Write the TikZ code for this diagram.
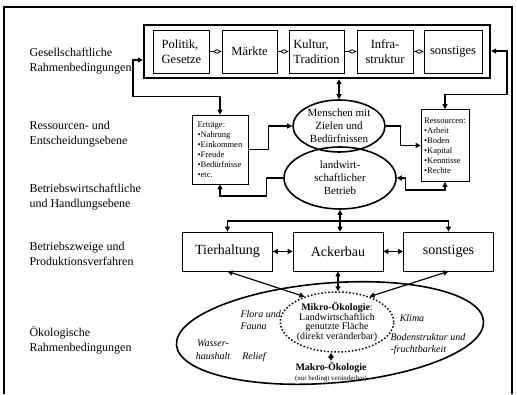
\documentclass[tikz,border=0pt]{standalone}
\usepackage{fontspec}
\setmainfont{Liberation Serif}
\usetikzlibrary{arrows.meta, shapes.geometric, calc}

\begin{document}
\begin{tikzpicture}[
  x=1pt, y=-1pt,
  level/.style={anchor=west, align=left, font=\fontsize{12}{15}\selectfont},
  topbox/.style={rectangle, draw, line width=0.8pt, align=center,
    minimum width=55pt, minimum height=43pt, inner sep=1pt,
    font=\fontsize{12.5}{15}\selectfont},
  branch/.style={rectangle, draw, line width=0.8pt, minimum width=90pt,
    minimum height=39pt, font=\fontsize{14}{16}\selectfont},
  listbox/.style={rectangle, draw, line width=0.8pt, align=left,
    inner sep=1pt, font=\fontsize{8.5}{10}\selectfont},
  actor/.style={ellipse, draw, line width=1.6pt, align=center, inner sep=0pt,
    font=\fontsize{11}{13}\selectfont},
  ecotext/.style={align=left, font=\itshape\fontsize{10}{12.5}\selectfont},
  flow/.style={-{Triangle[length=5pt,width=5pt]}, line width=1.2pt},
  twoway/.style={{Triangle[length=5pt,width=5pt]}-{Triangle[length=5pt,width=5pt]},
    line width=1.2pt},
  link/.style={-{Diamond[open,length=9pt,width=4.5pt]}, line width=0.8pt}
]
  \useasboundingbox (0,0) rectangle (517,394);
  % outer frame, open at the bottom
  \draw[line width=1.8pt] (4,394) -- (4,7) -- (512,7) -- (512,394);

  % level labels
  \node[level] (lgesell) at (26,61) {Gesellschaftliche\\Rahmenbedingungen};
  \node[level] (lressource) at (26,134) {Ressourcen- und\\Entscheidungsebene};
  \node[level] (lbetrieb) at (26,197) {Betriebswirtschaftliche\\und Handlungsebene};
  \node[level] (lzweige) at (26,254) {Betriebszweige und\\Produktionsverfahren};
  \node[level] (loeko) at (26,340) {Ökologische\\Rahmenbedingungen};

  % societal frame conditions
  \node[topbox, align=left, minimum width=56pt] (politik) at (181.5,51.5) {Politik,\\Gesetze};
  \node[topbox] (maerkte) at (249.5,51.5) {Märkte};
  \node[topbox, align=left] (kultur) at (316.5,51.5) {Kultur,\\Tradition};
  \node[topbox, minimum width=56pt] (infra) at (385,51.5) {Infra-\\struktur};
  \node[topbox, minimum width=58pt] (sonstG) at (453,51.5) {sonstiges};
  \node[draw, line width=2.4pt, minimum width=346pt, minimum height=53pt] (rahmen) at (317,51.5) {};
  \draw[link] (politik) -- (maerkte);
  \draw[link] (maerkte) -- (kultur);
  \draw[link] (kultur) -- (infra);
  \draw[link] (infra) -- (sonstG);

  % resources and decisions
  \node[listbox, minimum width=56pt, minimum height=69pt] (ertraege) at (220,149.5)
    {Erträge:\\\textbullet Nahrung\\\textbullet Einkommen\\\textbullet Freude\\\textbullet Bedürfnisse\\\textbullet etc.};
  \node[listbox, minimum width=48pt, minimum height=72pt] (ressourcen) at (445,145.5)
    {Ressourcen:\\\textbullet Arbeit\\\textbullet Boden\\\textbullet Kapital\\\textbullet Kenntisse\\\textbullet Rechte};
  \node[actor, minimum width=92pt, minimum height=52pt] (menschen) at (339,126)
    {Menschen mit\\Zielen und\\Bedürfnissen};
  \node[actor, minimum width=112pt, minimum height=62pt] (betrieb) at (340,178)
    {landwirt-\\schaftlicher\\Betrieb};

  % branches of production
  \node[branch] (tier) at (227.5,251.5) {Tierhaltung};
  \node[branch] (acker) at (338,251.5) {Ackerbau};
  \node[branch] (sonstB) at (448.5,251.5) {sonstiges};

  % ecological frame conditions
  \node[ellipse, draw, line width=1.6pt, minimum width=308pt, minimum height=100pt,
    rotate=4.5] (oeko) at (330,333) {};
  \node[ellipse, draw, line width=1.5pt, dotted, inner sep=0pt, minimum width=106pt,
    minimum height=60pt, align=center, font=\fontsize{10}{9.5}\selectfont] (mikro) at (337,322)
    {\textbf{Mikro-Ökologie}:\\Landwirtschaftlich\\genutzte Fläche\\(direkt veränderbar)};
  \node[align=center, inner sep=1pt, font=\fontsize{10}{10}\selectfont\bfseries] (makro) at (331,372)
    {Makro-Ökologie\\{\normalfont\fontsize{7}{8}\selectfont(nur bedingt veränderbar)}};
  \node[ecotext, anchor=west] (flora) at (237,320) {Flora und\\Fauna};
  \node[ecotext, align=center] (wasser) at (213,350) {Wasser-\\haushalt};
  \node[ecotext] (relief) at (254,357) {Relief};
  \node[ecotext] (klima) at (412,318) {Klima};
  \node[ecotext, anchor=west] (boden) at (387,344) {Bodenstruktur und\\-fruchtbarkeit};

  % feedback loops
  \coordinate (lin) at (133,60);
  \coordinate (rin) at (507,51);
  \draw[twoway] (ertraege.north) -- ++(0,-18) -| (lin) -- (lin -| rahmen.west);
  \draw[twoway] (ressourcen.north) -- ++(0,-15) -| (rin) -- (rin -| rahmen.east);
  \draw[twoway] (menschen.north) -- (menschen.north |- rahmen.south);
  \draw[flow] (ertraege.east) -- ++(20,0) |- (menschen.west);
  \draw[flow] (menschen.east) -- ++(15,0) |- (ressourcen.west);
  \draw[flow] (betrieb.west) -- ++(-17,0) -- ++(0,18) -| (ertraege.south);
  \draw[twoway] (betrieb.east) -- ++(9,0) -- ++(0,12) -| (ressourcen.south);

  % farm to branches
  \coordinate (split) at (340,221);
  \draw[twoway] (betrieb.south) -- (betrieb.south |- acker.north);
  \draw[flow] (split) -| (tier.north);
  \draw[flow] (split) -| (sonstB.north);
  \draw[twoway] (tier) -- (acker);
  \draw[twoway] (acker) -- (sonstB);

  % branches to ecology
  \draw[twoway] (tier.south) -- (mikro.142);
  \draw[twoway] (sonstB.south) -- (mikro.38);
  \draw[twoway] (acker.south) -- (acker.south |- mikro.north);
  \draw[twoway] (makro.north |- mikro.south) -- (makro.north);
\end{tikzpicture}
\end{document}
